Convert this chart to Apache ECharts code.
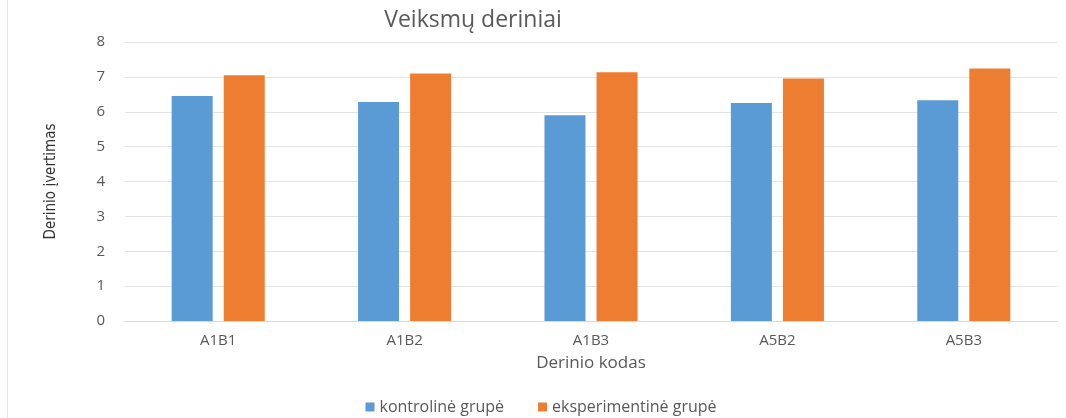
<!DOCTYPE html>
<html>
<head>
<meta charset="utf-8">
<script src="https://cdn.jsdelivr.net/npm/echarts@6/dist/echarts.min.js"></script>
<style>
  html, body { margin: 0; padding: 0; background: #fff; }
  #chart { width: 1066px; height: 418px; }
</style>
</head>
<body>
<div id="chart"></div>
<script>
const categories = ['A1B1', 'A1B2', 'A1B3', 'A5B2', 'A5B3'];
const kontroline = [6.45, 6.28, 5.9, 6.25, 6.33];
const eksperimentine = [7.05, 7.1, 7.13, 6.95, 7.24];
const seriesNames = ['kontrolinė grupė', 'eksperimentinė grupė'];

const chart = echarts.init(document.getElementById('chart'));

const option = {
    animation: false,
    textStyle: { fontFamily: 'Open Sans', color: '#595959' },
    title: {
        text: 'Veiksmų deriniai',
        left: 468,
        top: 4,
        textAlign: 'center',
        textStyle: { fontSize: 23, fontWeight: 'normal', color: '#595959', fontFamily: 'Open Sans' }
    },
    legend: {
        bottom: -2,
        left: 548,
        itemWidth: 9,
        itemHeight: 9,
        itemGap: 34,
        icon: 'rect',
        textStyle: { fontSize: 16, color: '#595959' },
        data: seriesNames
    },
    grid: { left: 125, right: 9, top: 42, bottom: 97 },
    xAxis: {
        type: 'category',
        data: categories,
        name: 'Derinio kodas',
        nameLocation: 'middle',
        nameGap: 34,
        nameTextStyle: { fontSize: 17, color: '#595959' },
        axisLine: { lineStyle: { color: '#d9d9d9' } },
        axisTick: { show: false },
        axisLabel: { fontSize: 15, color: '#595959', margin: 12 }
    },
    yAxis: {
        type: 'value',
        min: 0,
        max: 8,
        interval: 1,
        name: 'Derinio įvertimas',
        nameLocation: 'middle',
        nameGap: 66,
        nameTextStyle: { fontSize: 15, color: '#333333', fontFamily: 'DejaVu Sans Condensed, Roboto' },
        axisLine: { show: false },
        axisTick: { show: false },
        axisLabel: { fontSize: 15, color: '#595959', margin: 20 },
        splitLine: { lineStyle: { color: '#e3e3e3' } }
    },
    series: [
        {
            name: seriesNames[0],
            type: 'bar',
            data: kontroline,
            barWidth: 41,
            barGap: '27%',
            itemStyle: { color: '#5b9bd5' }
        },
        {
            name: seriesNames[1],
            type: 'bar',
            data: eksperimentine,
            barWidth: 41,
            itemStyle: { color: '#ed7d31' }
        }
    ],
    graphic: [
        {
            type: 'line',
            shape: { x1: 7.5, y1: 0, x2: 7.5, y2: 418 },
            style: { stroke: '#e6e6e6', lineWidth: 1 }
        }
    ]
};

// legend sits slightly right of centre in the original
chart.setOption(option);
const legendWidth = 375;
chart.setOption({ legend: { left: 548 - legendWidth / 2 } });
</script>
</body>
</html>
